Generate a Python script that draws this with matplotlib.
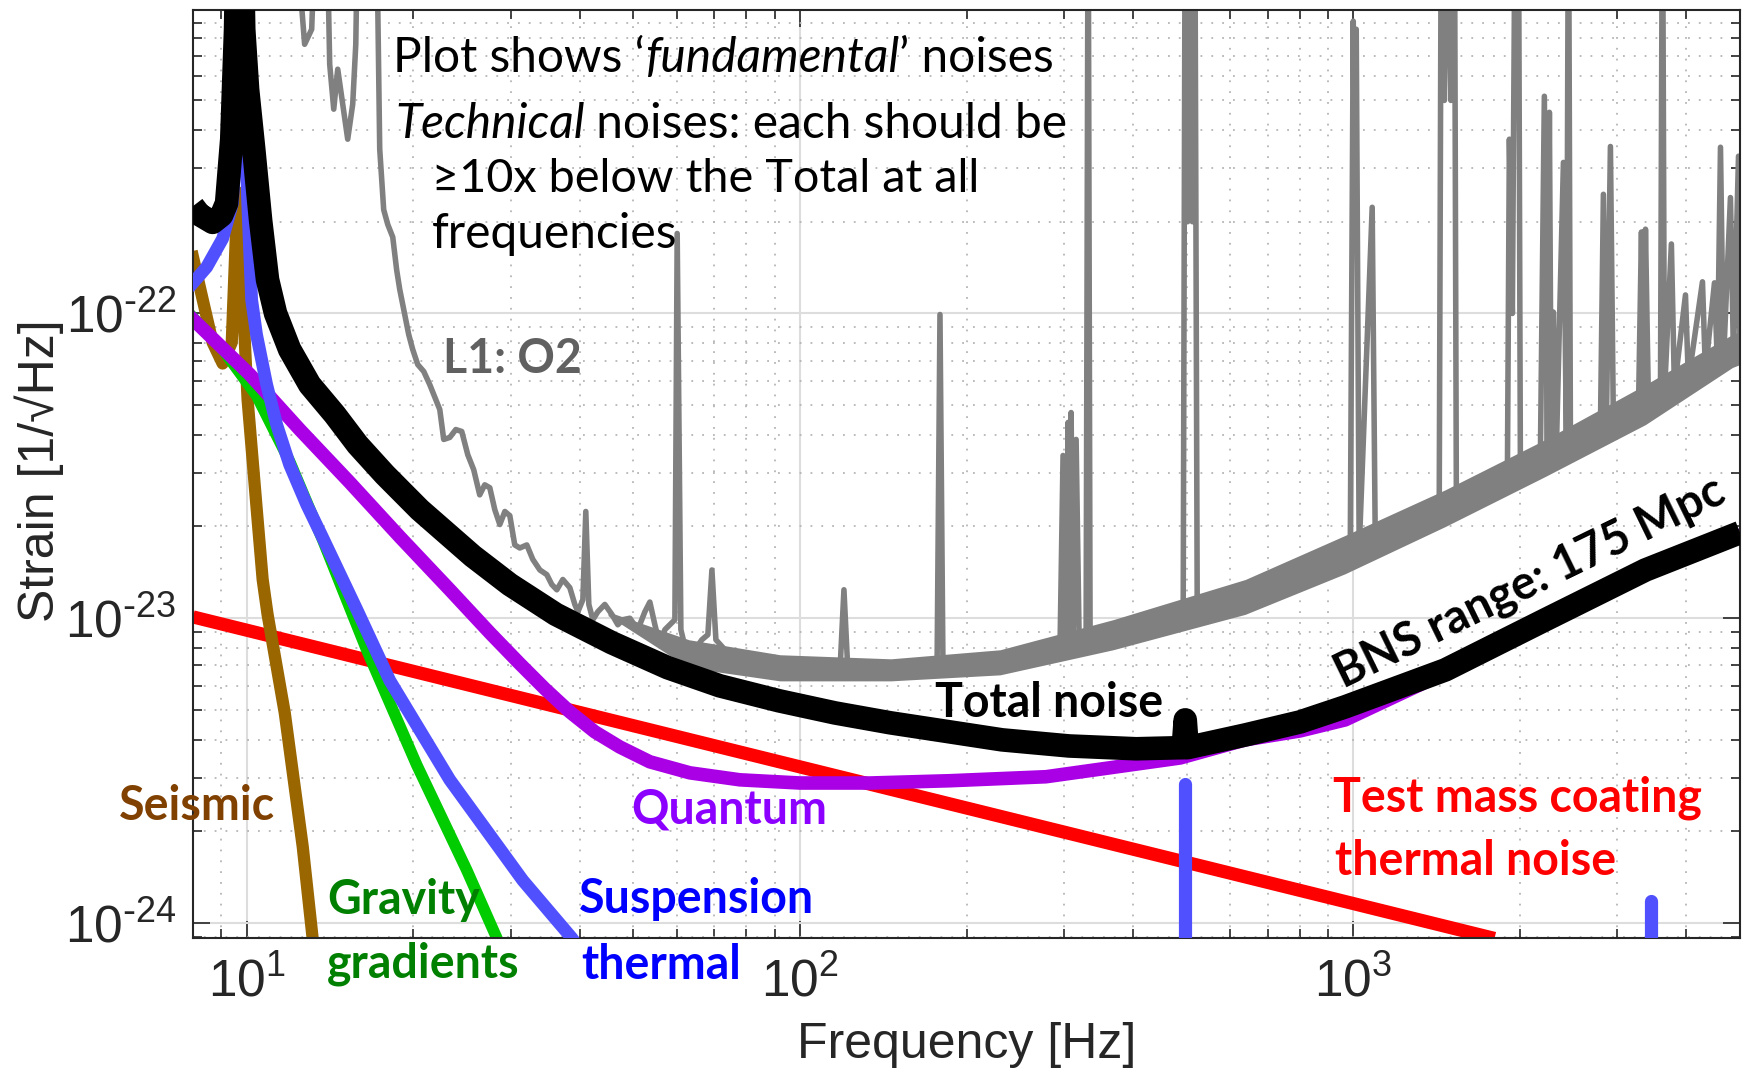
import math
import matplotlib
matplotlib.use("Agg")
import matplotlib.pyplot as plt
from matplotlib.ticker import FixedLocator, LogLocator, FuncFormatter

# ---------------- data (Hz, 1/sqrt(Hz)) ----------------
total_f = [8.0, 8.22, 8.68, 9.01, 9.20, 9.40, 9.55, 9.71, 9.88, 10.04, 10.30, 10.60, 10.91,
           11.28, 11.96, 13.00, 14.43, 15.87, 17.77, 20.55, 25.62, 29.90, 36.21, 45.71,
           57.71, 71.66, 91.62, 115.7, 145.5, 231.9, 306.5, 405.2, 486.7, 492.8, 497.0,
           501.2, 637.9, 802, 967, 1467, 2225, 3374, 5000]
total_h = [2.25e-22, 2.11e-22, 1.99e-22, 2.10e-22, 2.30e-22, 3.73e-22, 8.56e-22, 5e-21,
           8.56e-22, 5.44e-22, 3.46e-22, 2.02e-22, 1.29e-22, 1.00e-22, 7.62e-23, 5.84e-23,
           4.66e-23, 3.71e-23, 2.96e-23, 2.27e-23, 1.60e-23, 1.29e-23, 1.03e-23, 8.31e-24,
           6.88e-24, 6.00e-24, 5.36e-24, 4.89e-24, 4.54e-24, 3.99e-24, 3.81e-24, 3.73e-24,
           3.76e-24, 3.76e-24, 4.64e-24, 3.76e-24, 4.14e-24, 4.57e-24, 5.12e-24, 6.77e-24,
           9.89e-24, 1.44e-23, 1.91e-23]

quant_f = [8.0, 10.13, 12.47, 15.36, 18.91, 23.29, 27.51, 31.17, 34.59, 38.38, 42.58, 47.27,
           53.55, 63.25, 77.9, 100.0, 133.9, 186.7, 278.5, 486.7, 637.9, 802, 967, 1467,
           2225, 3374, 5000]
quant_h = [9.56e-23, 6.31e-23, 4.16e-23, 2.79e-23, 1.85e-23, 1.24e-23, 8.96e-24, 7.09e-24,
           5.87e-24, 4.93e-24, 4.24e-24, 3.78e-24, 3.38e-24, 3.11e-24, 2.95e-24, 2.88e-24,
           2.88e-24, 2.93e-24, 3.02e-24, 3.48e-24, 3.99e-24, 4.27e-24, 4.64e-24, 6.62e-24,
           9.66e-24, 1.41e-23, 1.87e-23]

susp_f = [8.0, 8.47, 9.05, 9.43, 9.63, 9.75, 9.92, 10.04, 10.21, 10.42, 10.87, 11.33, 11.96,
          12.84, 13.72, 15.81, 18.14, 23.29, 31.56, 38.70, 45.0]
susp_h = [1.26e-22, 1.42e-22, 1.76e-22, 2.30e-22, 4.34e-22, 3e-21, 5.04e-22, 2.37e-22,
          1.11e-22, 8.53e-23, 5.84e-23, 4.32e-23, 3.19e-23, 2.36e-23, 1.84e-23, 1.07e-23,
          6.25e-24, 2.95e-24, 1.38e-24, 8.93e-25, 6e-25]
# violin-mode lines of the suspension thermal noise
susp_line_f = [497.0, 3459]
susp_line_h = [2.86e-24, 1.18e-24]

seis_f = [8.0, 8.33, 8.68, 9.05, 9.40, 9.63, 9.83, 10.04, 10.42, 10.69, 10.91, 11.72, 12.63,
          13.16, 13.5]
seis_h = [1.53e-22, 1.11e-22, 8.03e-23, 6.85e-23, 8.03e-23, 2.50e-22, 1.17e-22, 5.22e-23,
          2.32e-23, 1.34e-23, 1.03e-23, 4.89e-24, 1.78e-24, 8.93e-25, 6.5e-25]

grav_f = [8.0, 9.05, 10.42, 11.96, 13.72, 16.48, 20.30, 25.00, 28.32, 29.5]
grav_h = [9.70e-23, 7.62e-23, 5.38e-23, 3.27e-23, 1.81e-23, 7.88e-24, 3.30e-24, 1.49e-24,
          8.93e-25, 7e-25]

coat_f = [8.0, 1800]
coat_h = [1.01e-23, 8.9e-25]

# L1 O2 measured spectrum (frequency, strain)
ligo = [(12.0, 3e-21), (12.73, 7.64e-22), (13.11, 8.56e-22), (13.44, 3e-21), (13.90, 3e-21),
        (14.13, 6.57e-22), (14.37, 4.68e-22), (14.61, 6.33e-22), (14.92, 4.86e-22),
        (15.23, 3.73e-22), (15.55, 4.86e-22), (15.75, 7.64e-22), (15.94, 3e-21),
        (17.12, 3e-21), (17.40, 3.46e-22), (17.69, 2.19e-22), (17.99, 1.96e-22),
        (18.37, 1.78e-22), (18.67, 1.39e-22), (18.91, 1.20e-22), (19.31, 9.92e-23),
        (19.63, 8.53e-23), (19.96, 7.62e-23), (20.38, 6.80e-23), (20.90, 6.45e-23),
        (21.43, 5.84e-23), (21.97, 5.22e-23), (22.34, 4.84e-23), (22.71, 3.86e-23),
        (23.29, 3.92e-23), (23.88, 4.16e-23), (24.48, 4.10e-23), (25.10, 3.44e-23),
        (25.73, 3.07e-23), (26.38, 2.54e-23), (26.94, 2.74e-23), (27.51, 2.68e-23),
        (28.09, 2.27e-23), (28.68, 2.03e-23), (29.29, 2.24e-23), (29.90, 2.17e-23),
        (30.52, 1.74e-23), (31.17, 1.70e-23), (32.09, 1.74e-23), (32.90, 1.56e-23),
        (33.88, 1.44e-23), (34.88, 1.39e-23), (35.61, 1.29e-23), (36.36, 1.24e-23),
        (37.28, 1.34e-23), (38.38, 1.26e-23), (39.19, 1.11e-23), (39.69, 1.05e-23),
        (40.52, 1.15e-23), (41.02, 2.24e-23), (41.54, 1.11e-23), (42.24, 9.89e-24),
        (43.12, 1.05e-23), (44.40, 1.11e-23), (45.71, 1.03e-23), (46.87, 9.52e-24),
        (47.86, 9.89e-24), (49.28, 1.00e-23), (50.94, 9.17e-24), (52.45, 1.05e-23),
        (53.55, 1.13e-23), (54.68, 9.52e-24), (55.83, 8.18e-24), (57.00, 9.17e-24),
        (58.21, 9.52e-24), (59.43, 9.89e-24), (60.0, 1.83e-22), (60.93, 9.17e-24),
        (62.47, 7.59e-24), (64.58, 7.88e-24), (66.49, 8.50e-24), (68.17, 8.83e-24),
        (69.33, 1.44e-23), (70.49, 8.50e-24), (73.18, 7.88e-24), (76.3, 7.31e-24),
        (79.53, 7.59e-24), (82.91, 7.04e-24), (100.4, 7.04e-24), (118.1, 6.67e-24),
        (120.1, 1.24e-23), (122.1, 6.67e-24), (151.7, 6.52e-24), (176.9, 6.52e-24),
        (179.1, 9.92e-23), (181.4, 6.52e-24), (210.7, 6.88e-24), (278.5, 7.47e-24),
        (295.2, 8.18e-24), (298.9, 3.42e-23), (302.7, 8.5e-24), (305.2, 4.39e-23),
        (307.8, 8.5e-24), (309.1, 4.73e-23), (311.7, 8.5e-24), (315.6, 3.86e-23),
        (319.6, 8.5e-24), (329.0, 8.6e-24), (331.8, 3e-21), (334.5, 8.6e-24),
        (368, 8.89e-24), (429.5, 9.74e-24), (492.8, 1.07e-23), (497, 3e-21), (502, 2e-22),
        (507, 3e-21), (512, 2e-22), (517, 3e-21), (522.4, 1.09e-23), (640.5, 1.18e-23),
        (802, 1.37e-23), (967, 1.62e-23), (987.6, 1.65e-23), (1000, 9.10e-22),
        (1006, 2e-22), (1012.5, 8.56e-22), (1025, 1.68e-23), (1082, 2.23e-22),
        (1096, 1.77e-23), (1217, 1.92e-23), (1430, 2.20e-23), (1443, 3e-21), (1461, 5e-22),
        (1479, 3e-21), (1501, 5e-22), (1523, 3e-21), (1536, 2.34e-23), (1697, 2.56e-23),
        (1899, 2.81e-23), (1915, 3.73e-22), (1939, 1e-22), (1963, 3e-21), (1988, 3e-21),
        (2005, 2.94e-23), (2178, 3.22e-23), (2215, 5.16e-22), (2243, 3.39e-23),
        (2262, 4.57e-22), (2280, 3.44e-23), (2300, 1.01e-22), (2328, 3.52e-23),
        (2398, 3.13e-22), (2428, 3.66e-23), (2449, 3e-21), (2469, 3.71e-23),
        (2797, 4.16e-23), (2832, 2.46e-22), (2867, 4.25e-23), (2916, 3.53e-22),
        (2952, 4.39e-23), (3277, 4.84e-23), (3318, 1.85e-22), (3345, 4.95e-23),
        (3374, 1.89e-22), (3416, 5.06e-23), (3591, 5.34e-23), (3621, 3e-21),
        (3651, 5.42e-23), (3758, 1.69e-22), (3806, 5.67e-23), (3985, 1.15e-22),
        (4034, 6.03e-23), (4277, 1.27e-22), (4330, 6.45e-23), (4496, 1.26e-22),
        (4552, 6.75e-23), (4610, 3.51e-22), (4668, 6.96e-23), (4805, 2.40e-22),
        (4866, 7.28e-23), (4969, 3.28e-22), (5000, 7.50e-23)]
ligo_f = [p[0] for p in ligo]
ligo_h = [p[1] for p in ligo]
# spread of the measured noise above ~45 Hz
band_f = [45, 63, 92, 146, 230, 368, 638, 967, 1467, 2225, 3374, 4846, 5000]
band_hi = [1.05e-23, 8.50e-24, 7.59e-24, 7.36e-24, 7.88e-24, 9.89e-24, 1.34e-23, 1.87e-23,
           2.64e-23, 3.86e-23, 5.84e-23, 8.53e-23, 8.73e-23]
band_lo = [1.02e-23, 6.88e-24, 6.23e-24, 6.23e-24, 6.52e-24, 7.88e-24, 1.03e-23, 1.40e-23,
           2.00e-23, 2.92e-23, 4.32e-23, 6.65e-23, 6.80e-23]

xticks = [10, 100, 1000]
yticks = [1e-24, 1e-23, 1e-22]

# ---------------- figure ----------------
plt.rcParams['font.family'] = ['Liberation Sans', 'DejaVu Sans']
W, H = 1745, 1069
fig = plt.figure(figsize=(W / 100, H / 100), dpi=100)
ax = fig.add_axes([193 / W, 1 - 938 / H, (1740 - 193) / W, (938 - 10) / H])
ax.set_xscale('log')
ax.set_yscale('log')
ax.set_xlim(8, 5000)
ax.set_ylim(8.93e-25, 9.9e-22)

ax.set_axisbelow(True)
ax.grid(True, which='major', color='#dddddd', lw=1.5)
ax.grid(True, which='minor', color='#b5b5b5', lw=1.3, ls=(0, (1, 5)))

ax.xaxis.set_major_locator(FixedLocator(xticks))
ax.yaxis.set_major_locator(FixedLocator(yticks))
ax.xaxis.set_minor_locator(LogLocator(base=10, subs=range(2, 10), numticks=30))
ax.yaxis.set_minor_locator(LogLocator(base=10, subs=range(2, 10), numticks=30))


def pow_label(v, pos):
    e = round(math.log10(v))
    if e < 0:
        return r'$\mathregular{10^{\text{-}%d}}$' % -e
    return r'$\mathregular{10^{%d}}$' % e


ax.xaxis.set_major_formatter(FuncFormatter(pow_label))
ax.yaxis.set_major_formatter(FuncFormatter(pow_label))
ax.tick_params(which='both', direction='in', top=True, right=True,
               colors='#262626', labelsize=37)
ax.tick_params(which='major', length=12, width=1.2)
ax.tick_params(which='minor', length=6.5, width=1.2)
ax.tick_params(axis='x', pad=14)
ax.tick_params(axis='y', pad=12)
for s in ax.spines.values():
    s.set_linewidth(1.5)
    s.set_color('#262626')

ax.set_xlabel('Frequency [Hz]', fontsize=36, color='#262626', va='baseline')
ax.xaxis.set_label_coords(0.5, -0.1293)
ax.set_ylabel('Strain [1/\u221aHz]', fontsize=36, color='#262626',
              rotation_mode='anchor', ha='center', va='baseline')
ax.yaxis.set_label_coords(-0.0899, 0.504)

# ---------------- curves ----------------
ax.fill_between(band_f, band_lo, band_hi, color='#808080', lw=0, zorder=2)
ax.plot(ligo_f, ligo_h, color='#808080', lw=4.0, zorder=2)
ax.plot(coat_f, coat_h, color='#ff0000', lw=9.5, zorder=2.2, solid_capstyle='butt')
ax.plot(seis_f, seis_h, color='#996600', lw=8.8, zorder=2.3)
ax.plot(grav_f, grav_h, color='#00cc00', lw=8.3, zorder=2.4)
ax.plot(quant_f, quant_h, color='#aa00e6', lw=9.8, zorder=2.5)
ax.plot(susp_f, susp_h, color='#5050ff', lw=9.2, zorder=2.6)
for f, h in zip(susp_line_f, susp_line_h):
    ax.plot([f, f], [5e-25, h], color='#5050ff', lw=9.5, zorder=2.6,
            solid_capstyle='round')
ax.plot(total_f, total_h, color='black', lw=17, zorder=2.8,
        solid_joinstyle='round', solid_capstyle='butt')

# ---------------- annotations ----------------
lat = ['Lato', 'DejaVu Sans']


def put(px, py, s, **kw):
    return fig.text(px / W, 1 - py / H, s, ha='left', va='baseline', family=lat, **kw)


def put_runs(px, py, runs, **kw):
    t = put(px, py, runs[0][0], style=runs[0][1], **kw)
    for s, st in runs[1:]:
        t = ax.annotate(s, xy=(1, 0), xycoords=t, ha='left', va='bottom',
                        style=st, family=lat, **kw)


tsz = 34.5
put_runs(393, 72, [('Plot shows \u2018', 'normal'), ('fundamental', 'italic'),
                   ('\u2019 noises', 'normal')], fontsize=tsz, color='black')
put_runs(395, 138, [('Technical', 'italic'), (' noises: each should be', 'normal')],
         fontsize=tsz, color='black')
put(432, 192, '\u226510x below the Total at all', fontsize=tsz - 0.8, color='black')
put(432, 248, 'frequencies', fontsize=tsz, color='black')

bsz = 33.5
put(443, 373, 'L1: O2', fontsize=bsz, weight='bold', color='#606060')
put(935, 717, 'Total noise', fontsize=bsz, weight='bold', color='black')
put(119, 820, 'Seismic', fontsize=bsz, weight='bold', color='#804000')
put(327, 914, 'Gravity', fontsize=bsz, weight='bold', color='#008000')
put(327, 978, 'gradients', fontsize=bsz, weight='bold', color='#008000')
put(579, 913, 'Suspension', fontsize=bsz, weight='bold', color='#0000ff')
put(581, 979, 'thermal', fontsize=bsz, weight='bold', color='#0000ff')
put(631, 823, 'Quantum', fontsize=bsz, weight='bold', color='#8c00ff')
put(1333, 812, 'Test mass coating', fontsize=bsz, weight='bold', color='#ff0000')
put(1335, 875, 'thermal noise', fontsize=bsz, weight='bold', color='#ff0000')
put(1343, 688, 'BNS range: 175 Mpc', fontsize=bsz, weight='bold', color='black',
    rotation=26, rotation_mode='anchor')

fig.savefig('out.png', dpi=100, facecolor='white')
